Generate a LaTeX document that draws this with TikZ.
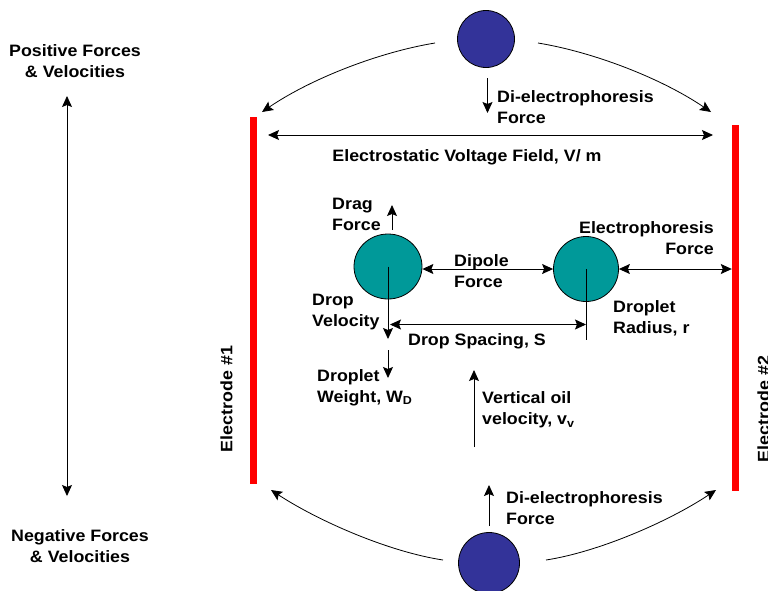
\documentclass[tikz,border=0pt]{standalone}
\usepackage{fontspec}
\setmainfont{Liberation Sans}[FakeStretch=1.08]
\usetikzlibrary{arrows.meta}
\definecolor{dropblue}{RGB}{51,51,153}
\definecolor{dropteal}{RGB}{0,153,153}
\definecolor{elred}{RGB}{255,0,0}
\tikzset{
  lbl/.style={font=\bfseries\fontsize{16.5}{21}\selectfont, inner sep=0pt, align=left},
  arr/.style={line width=0.9pt, -{Stealth[length=11pt,width=10pt,inset=2pt]}},
  darr/.style={line width=0.9pt, {Stealth[length=11pt,width=10pt,inset=2pt]}-{Stealth[length=11pt,width=10pt,inset=2pt]}},
  plain/.style={line width=0.9pt},
  bluedrop/.style={circle, draw=black, line width=0.8pt, fill=dropblue, minimum size=57pt, inner sep=0pt},
  tealdrop/.style={ellipse, draw=black, line width=0.8pt, fill=dropteal, inner sep=0pt},
  electrode/.style={rectangle, fill=elred, minimum width=7pt, inner sep=0pt},
}
\usetikzlibrary{shapes.geometric}
\begin{document}
\begin{tikzpicture}[x=1pt,y=-1pt]
\useasboundingbox (0,0) rectangle (768,590);
% circles
\node[bluedrop] (topc) at (486,39) {};
\node[bluedrop, minimum size=61pt] (botc) at (489,563) {};
\node[tealdrop, minimum width=68pt, minimum height=65pt] (d1) at (388,266.5) {};
\node[tealdrop, minimum width=65pt, minimum height=65pt] (d2) at (586,269) {};
% electrodes
\node[electrode, minimum height=367pt] (e1) at (253.5,300.5) {};
\node[electrode, minimum height=366pt] (e2) at (735.5,307.5) {};
\node[lbl, rotate=90] (e1l) at (226.5,399) {Electrode \#1};
\node[lbl, rotate=90] (e2l) at (763.5,409) {Electrode \#2};

% left scale
\node[lbl, align=center] (pos) at (75,61) {Positive Forces\\\& Velocities};
\node[lbl, align=center] (neg) at (80,546) {Negative Forces\\\& Velocities};
\coordinate (sTop) at (67,96);
\coordinate (sBot) at (67,496);
\draw[darr] (sTop) -- (sBot);

% top
\coordinate (tdA) at (487.5,78);
\coordinate (tdB) at (487.5,113);
\draw[arr] (tdA) -- (tdB);
\node[lbl, anchor=west] (dietop) at (497,107) {Di-electrophoresis\\Force};
\coordinate (tlS) at (435,43);
\coordinate (tlE) at (262,112);
\coordinate (trS) at (538,43);
\coordinate (trE) at (711,112);
\draw[arr, line width=0.8pt] (tlS) .. controls (380,52) and (312,78) .. (tlE);
\draw[arr, line width=0.8pt] (trS) .. controls (593,52) and (661,78) .. (trE);
\coordinate (vfL) at (268,135);
\coordinate (vfR) at (713,135);
\draw[darr] (vfL) -- (vfR);
\node[lbl, anchor=center] (field) at (467,157) {Electrostatic Voltage Field, V/ m};

% middle
\coordinate (dgA) at (392,230);
\coordinate (dgB) at (392,205);
\draw[arr] (dgA) -- (dgB);
\node[lbl, anchor=west] (drag) at (332,214.5) {Drag\\Force};
\draw[darr] (d1.east |- 0,269) -- (d2.west |- 0,269);
\node[lbl, anchor=west] (dipole) at (454,271) {Dipole\\Force};
\draw[darr] (d2.east |- 0,269) -- (e2.west |- 0,269);
\node[lbl, anchor=east, align=right] (ephor) at (714,238) {Electrophoresis\\Force};
\coordinate (dvB) at (388,339);
\draw[arr] (d1.center) -- (dvB);
\node[lbl, anchor=west] (dropvel) at (312,312) {Drop\\Velocity};
\coordinate (wA) at (388,350);
\coordinate (wB) at (388,378);
\draw[arr] (wA) -- (wB);
\node[lbl, anchor=west] (weight) at (317,387.5) {Droplet\\Weight, W\textsubscript{D}};
\coordinate (rB) at (586,340);
\draw[plain] (d2.center) -- (rB);
\node[lbl, anchor=west] (radius) at (613,318.5) {Droplet\\Radius, r};
\coordinate (spL) at (390,324.5);
\coordinate (spR) at (586,324.5);
\draw[darr] (spL) -- (spR);
\node[lbl, anchor=center] (spacing) at (477,341) {Drop Spacing, S};
\coordinate (voA) at (474,447);
\coordinate (voB) at (474,370);
\draw[arr] (voA) -- (voB);
\node[lbl, anchor=west] (vert) at (482,410) {Vertical oil\\velocity, v\textsubscript{v}};

% bottom
\coordinate (buA) at (489,526);
\coordinate (buB) at (489,485);
\draw[arr] (buA) -- (buB);
\node[lbl, anchor=west] (diebot) at (506,508.5) {Di-electrophoresis\\Force};
\coordinate (blS) at (443,560);
\coordinate (blE) at (271,490);
\coordinate (brS) at (546,560);
\coordinate (brE) at (716,490);
\draw[arr, line width=0.8pt] (blS) .. controls (390,552) and (320,522) .. (blE);
\draw[arr, line width=0.8pt] (brS) .. controls (598,552) and (668,522) .. (brE);
\end{tikzpicture}
\end{document}
